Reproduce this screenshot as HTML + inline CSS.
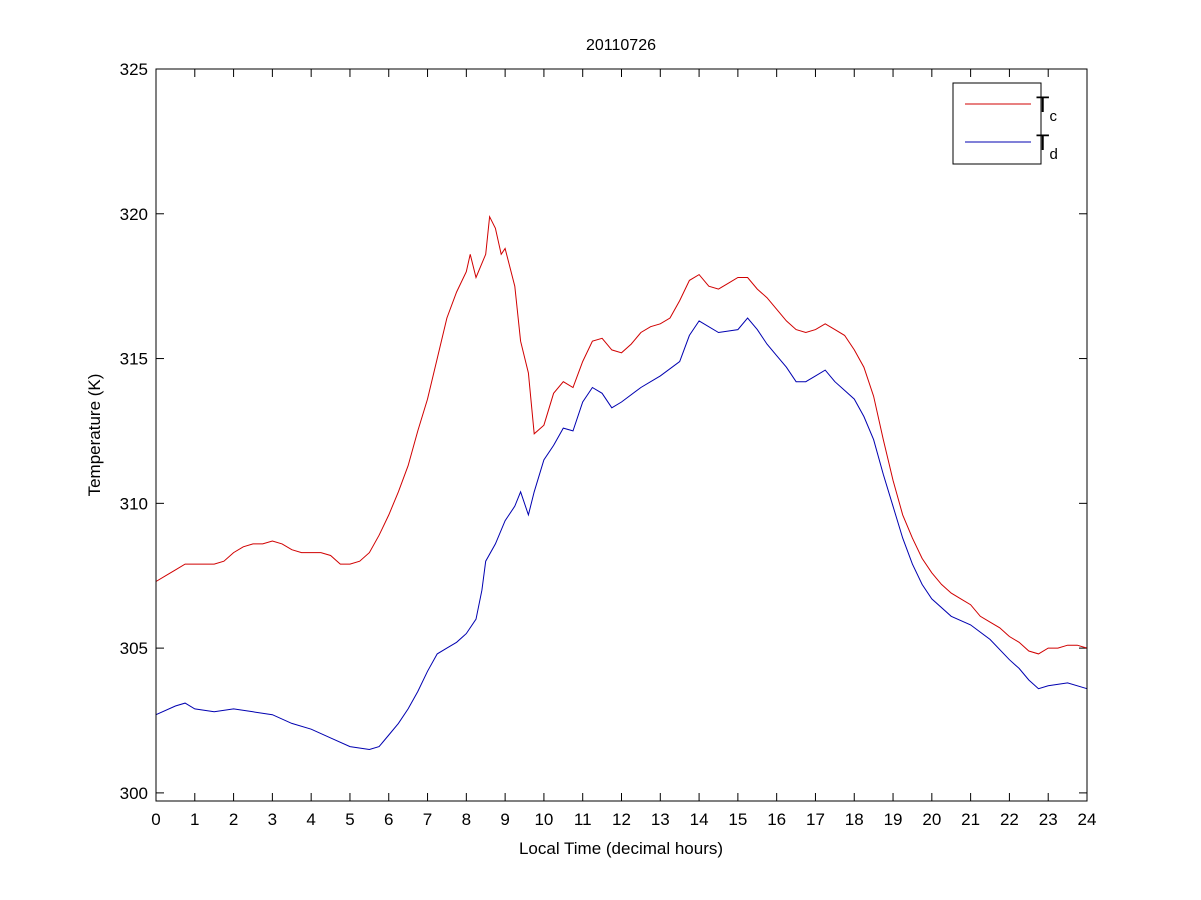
<!DOCTYPE html>
<html><head><meta charset="utf-8"><style>
body{margin:0;background:#fff}
svg{display:block;font-family:"Liberation Sans",Arial,sans-serif}
</style></head><body>
<svg id="chart" width="1201" height="900">
<rect width="1201" height="900" fill="#fff"/>
<g id="grid"></g>
<text x="621" y="50" font-size="16" text-anchor="middle">20110726</text>
<text x="621" y="854" font-size="17" text-anchor="middle">Local Time (decimal hours)</text>
<text transform="translate(100,435) rotate(-90)" font-size="17" text-anchor="middle">Temperature (K)</text>
<g id="series"></g>
<rect x="156" y="69" width="931" height="732" fill="none" stroke="#000" stroke-width="1"/>
<g>
<rect x="953" y="83" width="88" height="81" fill="#fff" stroke="#000"/>
<line x1="965" y1="104" x2="1031" y2="104" stroke="#d00000"/>
<text x="1036" y="112" font-size="22">T<tspan font-size="15" dy="9">c</tspan></text>
<line x1="965" y1="142" x2="1031" y2="142" stroke="#0000b0"/>
<text x="1036" y="150" font-size="22">T<tspan font-size="15" dy="9">d</tspan></text>
</g>
</svg>
<script>
const xTicks=[0,1,2,3,4,5,6,7,8,9,10,11,12,13,14,15,16,17,18,19,20,21,22,23,24];
const yTicks=[300,305,310,315,320,325];
const tcHours=[0,0.25,0.5,0.75,1,1.25,1.5,1.75,2,2.25,2.5,2.75,3,3.25,3.5,3.75,4,4.25,4.5,4.75,5,5.25,5.5,5.75,6,6.25,6.5,6.75,7,7.25,7.5,7.75,8,8.1,8.25,8.5,8.6,8.75,8.9,9,9.25,9.4,9.6,9.75,10,10.25,10.5,10.75,11,11.25,11.5,11.75,12,12.25,12.5,12.75,13,13.25,13.5,13.75,14,14.25,14.5,14.75,15,15.25,15.5,15.75,16,16.25,16.5,16.75,17,17.25,17.5,17.75,18,18.25,18.5,18.75,19,19.25,19.5,19.75,20,20.25,20.5,20.75,21,21.25,21.5,21.75,22,22.25,22.5,22.75,23,23.25,23.5,23.75,24];
const tcValues=[307.3,307.5,307.7,307.9,307.9,307.9,307.9,308.0,308.3,308.5,308.6,308.6,308.7,308.6,308.4,308.3,308.3,308.3,308.2,307.9,307.9,308.0,308.3,308.9,309.6,310.4,311.3,312.5,313.6,315.0,316.4,317.3,318.0,318.6,317.8,318.6,319.9,319.5,318.6,318.8,317.5,315.6,314.5,312.4,312.7,313.8,314.2,314.0,314.9,315.6,315.7,315.3,315.2,315.5,315.9,316.1,316.2,316.4,317.0,317.7,317.9,317.5,317.4,317.6,317.8,317.8,317.4,317.1,316.7,316.3,316.0,315.9,316.0,316.2,316.0,315.8,315.3,314.7,313.7,312.2,310.8,309.6,308.8,308.1,307.6,307.2,306.9,306.7,306.5,306.1,305.9,305.7,305.4,305.2,304.9,304.8,305.0,305.0,305.1,305.1,305.0];
const tdHours=[0,0.5,0.75,1,1.5,2,2.5,3,3.5,4,4.5,5,5.5,5.75,6,6.25,6.5,6.75,7,7.25,7.5,7.75,8,8.25,8.4,8.5,8.75,9,9.25,9.4,9.6,9.75,10,10.25,10.5,10.75,11,11.25,11.5,11.75,12,12.5,13,13.5,13.75,14,14.5,15,15.25,15.5,15.75,16,16.25,16.5,16.75,17,17.25,17.5,17.75,18,18.25,18.5,18.75,19,19.25,19.5,19.75,20,20.5,21,21.5,22,22.25,22.5,22.75,23,23.5,24];
const tdValues=[302.7,303.0,303.1,302.9,302.8,302.9,302.8,302.7,302.4,302.2,301.9,301.6,301.5,301.6,302.0,302.4,302.9,303.5,304.2,304.8,305.0,305.2,305.5,306.0,307.0,308.0,308.6,309.4,309.9,310.4,309.6,310.4,311.5,312.0,312.6,312.5,313.5,314.0,313.8,313.3,313.5,314.0,314.4,314.9,315.8,316.3,315.9,316.0,316.4,316.0,315.5,315.1,314.7,314.2,314.2,314.4,314.6,314.2,313.9,313.6,313.0,312.2,311.0,309.9,308.8,307.9,307.2,306.7,306.1,305.8,305.3,304.6,304.3,303.9,303.6,303.7,303.8,303.6];
const NS='http://www.w3.org/2000/svg';
const X0=156,X1=1087,Y0=801,Y1=69,xMin=0,xMax=24,yMin=299.72,yMax=325;
function xs(v){return X0+(v-xMin)/(xMax-xMin)*(X1-X0);}
function ys(v){return Y0-(v-yMin)/(yMax-yMin)*(Y0-Y1);}
const g=document.getElementById('grid');
function mk(tag,attrs,parent){const e=document.createElementNS(NS,tag);for(const k in attrs)e.setAttribute(k,attrs[k]);parent.appendChild(e);return e;}
xTicks.forEach(t=>{const x=xs(t);
 const a=mk('line',{x1:x,y1:Y0,x2:x,y2:Y0-8,stroke:'#000'},g);
 
 
 const b=mk('line',{x1:x,y1:Y1,x2:x,y2:Y1+8,stroke:'#000'},g);
 
 
 const tx=mk('text',{x:x,y:Y0+24,'font-size':17,'text-anchor':'middle'},g);tx.textContent=t;
 
 
});
yTicks.forEach(t=>{const y=ys(t);
 const a=mk('line',{x1:X0,y1:y,x2:X0+8,y2:y,stroke:'#000'},g);
 
 
 const b=mk('line',{x1:X1,y1:y,x2:X1-8,y2:y,stroke:'#000'},g);
 
 
 const tx=mk('text',{x:X0-8,y:y+6,'font-size':17,'text-anchor':'end'},g);tx.textContent=t;
 
 
});
const s=document.getElementById('series');
function line(hours,vals,color,name){
 const p=mk('polyline',{points:hours.map((h,i)=>xs(h).toFixed(1)+','+ys(vals[i]).toFixed(1)).join(' '),fill:'none',stroke:color,'stroke-width':1},s);
 
 
}
line(tcHours,tcValues,'#d00000','series-tc');
line(tdHours,tdValues,'#0000b0','series-td');
</script>
</body></html>
